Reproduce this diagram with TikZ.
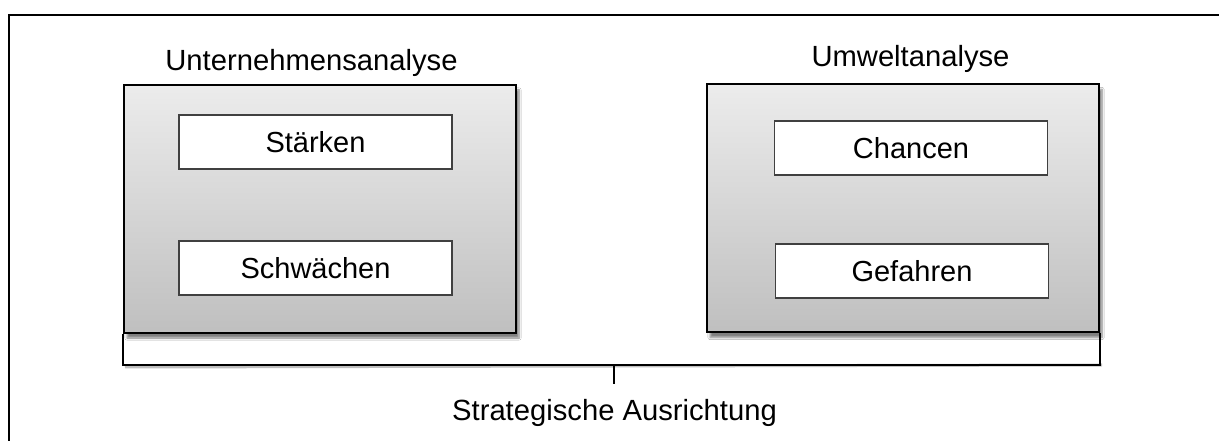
\documentclass[tikz,border=0pt]{standalone}
\usepackage{fontspec}
\setmainfont{Liberation Sans}
\usetikzlibrary{shadows.blur}
\begin{document}
\begin{tikzpicture}[x=1bp,y=-1bp,
  lbl/.style={font=\fontsize{29.2bp}{35bp}\selectfont, inner sep=0pt},
  panel/.style={draw=black, line width=2bp, minimum width=392bp, minimum height=248bp,
    top color=gray!15, bottom color=gray!50, inner sep=0pt,
    blur shadow={shadow xshift=3bp, shadow yshift=-5bp, shadow blur steps=6, shadow opacity=50}},
  item/.style={draw=black!75, line width=1.2bp, fill=white, minimum width=273bp,
    minimum height=54bp, inner sep=0pt, font=\fontsize{29bp}{35bp}\selectfont,
    text height=20.8bp, text depth=0bp},
  bracket/.style={draw=black, line width=2bp},
  bracketshade/.style={draw=black, opacity=0.25, line width=3bp}]
  \useasboundingbox (0,0) rectangle (1219,441);
  \clip (0,0) rectangle (1219,441);
  \fill[white] (0,0) rectangle (1219,441);
  % outer frame, running past the page edge
  \draw[line width=2.2bp] (9,460) -- (9,15) -- (1240,15);

  % analysis panels
  \node[panel] (u) at (320,209) {};
  \node[panel] (w) at (903,208.5) {};

  \node[lbl, anchor=base] (ut) at (311.5,71) {Unternehmensanalyse};
  \node[lbl, anchor=base] (wt) at (910.5,67) {Umweltanalyse};

  \node[item] (s1) at (315.5,142) {Stärken};
  \node[item] (s2) at (315.5,268) {Schwächen};
  \node[item] (c1) at (911,148) {Chancen};
  \node[item] (c2) at (912,271) {Gefahren};

  % bracket joining both panels, with a faint shade under its bar
  \coordinate (mid) at (614,365);
  \coordinate (tip) at (614,384);
  \draw[bracketshade] ([xshift=2bp]u.south west |- mid) ++(0,2) -- ([xshift=2bp]mid -| w.south east);
  \draw[bracket] (u.south west) |- (mid) -| (w.south east);
  \draw[bracket] (mid) -- (tip);
  \node[lbl, anchor=base] (sa) at (614.5,421) {Strategische Ausrichtung};
\end{tikzpicture}
\end{document}
